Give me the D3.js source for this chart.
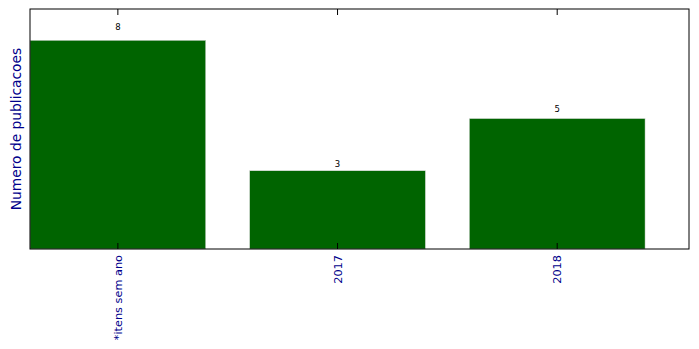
<!DOCTYPE html>
<html>
<head>
<meta charset="utf-8">
<script src="https://cdn.jsdelivr.net/npm/d3@7"></script>
<style>
  body { margin: 0; background: #fff; }
  text { font-family: "DejaVu Sans", sans-serif; }
</style>
</head>
<body>
<div id="chart"></div>
<script>
// data
const categories = ["*itens sem ano", "2017", "2018"]
const counts = [8, 3, 5]
const yTop = 9.2

const width = 699
const height = 349
const margin = {top: 9, right: 10, bottom: 100, left: 30}
const innerW = width - margin.left - margin.right
const innerH = height - margin.top - margin.bottom

const svg = d3.select("#chart")
    .append("svg")
    .attr("width", width)
    .attr("height", height)

const chart = svg.append("g")
    .attr("transform", `translate(${margin.left},${margin.top})`)

// linear x like matplotlib: category i centred at i, bars 0.8 wide
const x = d3.scaleLinear().domain([-0.4, categories.length - 0.4]).range([0, innerW])
const y = d3.scaleLinear().domain([0, yTop]).range([innerH, 0])
const barW = x(0.8) - x(0)

chart.selectAll("rect.bar")
    .data(counts)
    .join("rect")
    .attr("class", "bar")
    .attr("x", (d, i) => x(i - 0.4))
    .attr("y", d => y(d))
    .attr("width", barW)
    .attr("height", d => innerH - y(d))
    .attr("fill", "#006400")
    .attr("stroke", "#dcdcdc")
    .attr("stroke-width", 0.5)

// value labels, placed at 1.05 * height
chart.selectAll("text.val")
    .data(counts)
    .join("text")
    .attr("class", "val")
    .attr("x", (d, i) => x(i))
    .attr("y", d => y(d * 1.05))
    .attr("text-anchor", "middle")
    .style("font-size", "8.5px")
    .attr("fill", "#000")
    .text(d => d)

// frame
chart.append("rect")
    .attr("width", innerW)
    .attr("height", innerH)
    .attr("fill", "none")
    .attr("stroke", "#000")
    .attr("stroke-width", 1)

// ticks inward, bottom and top
const tickVals = d3.range(categories.length)
chart.selectAll("line.tb")
    .data(tickVals)
    .join("line")
    .attr("class", "tb")
    .attr("x1", d => x(d)).attr("x2", d => x(d))
    .attr("y1", innerH).attr("y2", innerH - 6)
    .attr("stroke", "#000")
chart.selectAll("line.tt")
    .data(tickVals)
    .join("line")
    .attr("class", "tt")
    .attr("x1", d => x(d)).attr("x2", d => x(d))
    .attr("y1", 0).attr("y2", 6)
    .attr("stroke", "#000")

// rotated category labels
chart.selectAll("text.cat")
    .data(categories)
    .join("text")
    .attr("class", "cat")
    .attr("transform", (d, i) => `translate(${x(i) + 4},${innerH + 6}) rotate(-90)`)
    .attr("text-anchor", "end")
    .style("font-size", "11.3px")
    .attr("fill", "#00008b")
    .text(d => d)

// y label
svg.append("text")
    .attr("transform", `translate(21,${margin.top + innerH / 2}) rotate(-90)`)
    .attr("text-anchor", "middle")
    .style("font-size", "13.8px")
    .attr("fill", "#00008b")
    .text("Numero de publicacoes")
</script>
</body>
</html>
